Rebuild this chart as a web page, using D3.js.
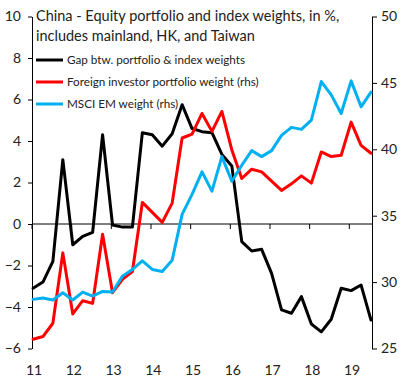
<!DOCTYPE html>
<html>
<head>
<meta charset="utf-8">
<script src="https://cdn.jsdelivr.net/npm/d3@7"></script>
<style>
  html, body { margin: 0; padding: 0; background: #fff; }
  svg { display: block; }
  text { font-family: Lato, "Open Sans", sans-serif; fill: #222; }
</style>
</head>
<body>
<svg id="chart" width="404" height="379"></svg>
<script>
// ---- Data (quarterly, 2011Q1 .. 2019Q3) ----
const yearLabels = ["11", "12", "13", "14", "15", "16", "17", "18", "19"];
const leftTicks = [-6, -4, -2, 0, 2, 4, 6, 8, 10];
const rightTicks = [25, 30, 35, 40, 45, 50];
const gapWeights = [-3.1, -2.8, -1.8, 3.1, -1.0, -0.6, -0.4, 4.3, -0.05, -0.15, -0.15, 4.4,
  4.3, 3.75, 4.35, 5.75, 4.6, 4.45, 4.4, 3.35, 2.8, -0.85, -1.3, -1.22, -2.38, -4.14,
  -4.3, -3.5, -4.82, -5.2, -4.59, -3.1, -3.21, -2.94, -4.63];
const foreignWeights = [25.7, 25.9, 26.9, 32.2, 27.6, 28.6, 28.4, 33.6, 29.2, 30.2, 30.8, 36.0,
  35.25, 34.5, 35.95, 40.85, 41.15, 42.7, 41.35, 42.85, 39.95, 37.8, 38.5, 38.3, 37.6, 36.9,
  37.4, 38.0, 37.45, 39.8, 39.45, 39.55, 42.05, 40.3, 39.7];
const msciWeights = [28.7, 28.8, 28.65, 29.2, 28.65, 29.25, 28.95, 29.3, 29.25, 30.45, 30.95, 31.6,
  30.95, 30.8, 31.65, 35.1, 36.6, 38.3, 36.85, 39.45, 37.6, 38.8, 39.9, 39.45, 39.9, 41.05,
  41.65, 41.5, 42.2, 45.1, 44.1, 42.7, 45.15, 43.2, 44.3];
const seriesNames = ["Gap btw. portfolio & index weights", "Foreign investor portfolio weight (rhs)", "MSCI EM weight (rhs)"];
const seriesColors = ["#000000", "#ff0000", "#00b0f0"];
const titleLines = ["China - Equity portfolio and index weights, in %,", "includes mainland, HK, and Taiwan"];

// ---- Layout ----
const svg = d3.select("#chart");
const plotLeft = 32, plotRight = 372, plotTop = 16.5, plotBottom = 348.5;

const x = d3.scaleLinear().domain([0, gapWeights.length - 1]).range([33, 371]);
const xTick = d3.scaleLinear().domain([0, 32]).range([32, 349.3]);
const yL = d3.scaleLinear().domain([-6, 10]).range([plotBottom, plotTop]);
const yR = d3.scaleLinear().domain([25, 50]).range([plotBottom, plotTop]);

// Left axis
const gL = svg.append("g").attr("transform", `translate(${plotLeft},0)`)
  .call(d3.axisLeft(yL).tickValues(leftTicks).tickSize(4).tickSizeOuter(0).tickPadding(7).tickFormat(d3.format("d")));
// Right axis
const gR = svg.append("g").attr("transform", `translate(${plotRight},0)`)
  .call(d3.axisRight(yR).tickValues(rightTicks).tickSize(5).tickSizeOuter(0).tickPadding(4).tickFormat(d3.format("d")));
[gL, gR].forEach(g => {
  g.selectAll("path, line").attr("stroke", "#000").attr("stroke-width", 1);
  g.selectAll("text").attr("font-size", 14).attr("font-family", "Lato, sans-serif").attr("fill", "#222");
});

// Zero-line category axis
const y0 = yL(0);
svg.append("line").attr("x1", plotLeft).attr("x2", plotRight).attr("y1", y0).attr("y2", y0)
  .attr("stroke", "#000").attr("stroke-width", 1);
svg.append("g").selectAll("line").data(yearLabels).join("line")
  .attr("x1", (d, i) => xTick(i * 4)).attr("x2", (d, i) => xTick(i * 4))
  .attr("y1", y0).attr("y2", y0 + 5).attr("stroke", "#000").attr("stroke-width", 1);
svg.append("g").selectAll("text").data(yearLabels).join("text")
  .attr("x", (d, i) => x(i * 4) + 1).attr("y", 375)
  .attr("text-anchor", "middle").attr("font-size", 14).text(d => d);

// Title
svg.append("g").selectAll("text").data(titleLines).join("text")
  .attr("x", 36).attr("y", (d, i) => 21 + i * 20).attr("font-size", 14.5).text(d => d);

// Legend
const lg = svg.append("g");
seriesNames.forEach((name, k) => {
  const yy = 60 + k * 22;
  lg.append("line").attr("x1", 36).attr("x2", 63).attr("y1", yy).attr("y2", yy)
    .attr("stroke", seriesColors[k]).attr("stroke-width", 3);
  lg.append("text").attr("x", 67).attr("y", yy + 4.3).attr("font-size", 11.7).text(name);
});

// Lines
const lineL = d3.line().x((d, i) => x(i)).y(d => yL(d));
const lineR = d3.line().x((d, i) => x(i)).y(d => yR(d));
const paths = [[gapWeights, lineL], [foreignWeights, lineR], [msciWeights, lineR]];
paths.forEach(([data, gen], k) => {
  svg.append("path").datum(data).attr("d", gen)
    .attr("fill", "none").attr("stroke", seriesColors[k]).attr("stroke-width", 3)
    .attr("stroke-linejoin", "round").attr("stroke-linecap", "round");
});
</script>
</body>
</html>
